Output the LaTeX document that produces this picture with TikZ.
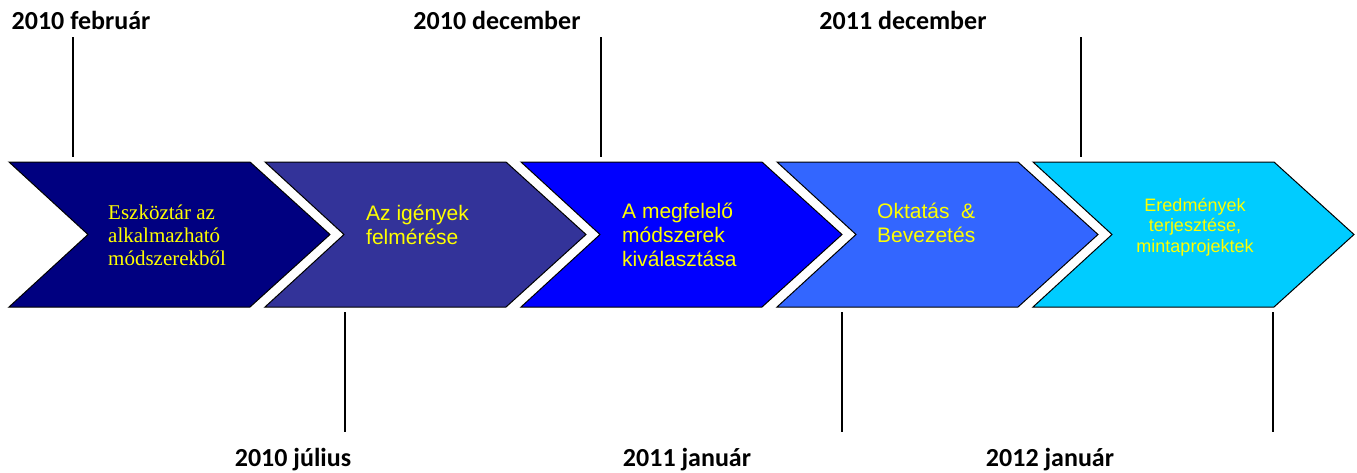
\documentclass[tikz,border=0pt]{standalone}
\usepackage{fontspec}
\setmainfont{Liberation Sans}
\newfontfamily\timesfont{Liberation Serif}
\newfontfamily\calibrifont{Carlito}
\usetikzlibrary{positioning,calc}

\definecolor{phaseA}{HTML}{000080}
\definecolor{phaseB}{HTML}{333399}
\definecolor{phaseC}{HTML}{0000FF}
\definecolor{phaseD}{HTML}{3366FF}
\definecolor{phaseE}{HTML}{00CCFF}
\definecolor{phasetext}{HTML}{FFFF00}

\begin{document}
\begin{tikzpicture}[x=1pt,y=-1pt,
  chevron/.style={draw=black,line width=1pt,line join=miter},
  phase/.style={inner sep=0pt,align=left,text=phasetext,font=\fontsize{21}{24}\selectfont},
  date/.style={inner sep=0pt,font=\calibrifont\bfseries\fontsize{26}{28}\selectfont},
  tick/.style={black,line width=1.2pt}]
\useasboundingbox (0,0) rectangle (1357,472);
% chevrons
\foreach \i/\col in {0/phaseA,1/phaseB,2/phaseC,3/phaseD,4/phaseE}
  \draw[chevron,fill=\col] ({9+256*\i},162) -- ++(241,0) -- ++(80,72.5)
    -- ++(-80,72.5) -- ++(-241,0) -- ++(79,-72.5) -- cycle;
% texts in the chevrons
\node[phase,anchor=west,font=\timesfont\fontsize{21}{23}\selectfont] (p1) at (108,235)
  {Eszköztár az\\alkalmazható\\módszerekből};
\node[phase,anchor=west] (p2) at (366,225) {Az igények\\felmérése};
\node[phase,anchor=west] (p3) at (622,235) {A megfelelő\\módszerek\\kiválasztása};
\node[phase,anchor=west] (p4) at (877,223) {Oktatás\ \ \&\\Bevezetés};
\node[phase,align=center,font=\fontsize{18}{20.5}\selectfont] (p5) at (1195,227)
  {Eredmények\\terjesztése,\\mintaprojektek};
% dates above
\node[date] (d1) at (81,20) {2010 február};
\node[date] (d3) at (497,20) {2010 december};
\node[date] (d5) at (903,20) {2011 december};
% dates below
\node[date] (d2) at (293,460) {2010 július};
\node[date] (d4) at (687,460) {2011 január};
\node[date] (d6) at (1050,460) {2012 január};
% ticks
\coordinate (t1a) at (73,37);   \coordinate (t1b) at (73,157);
\coordinate (t3a) at (601,37);  \coordinate (t3b) at (601,157);
\coordinate (t5a) at (1081,37); \coordinate (t5b) at (1081,157);
\coordinate (t2a) at (345,312); \coordinate (t2b) at (345,432);
\coordinate (t4a) at (842,312); \coordinate (t4b) at (842,432);
\coordinate (t6a) at (1273,312);\coordinate (t6b) at (1273,432);
\foreach \t in {1,...,6}
  \draw[tick] (t\t a) -- (t\t b);
\end{tikzpicture}
\end{document}
